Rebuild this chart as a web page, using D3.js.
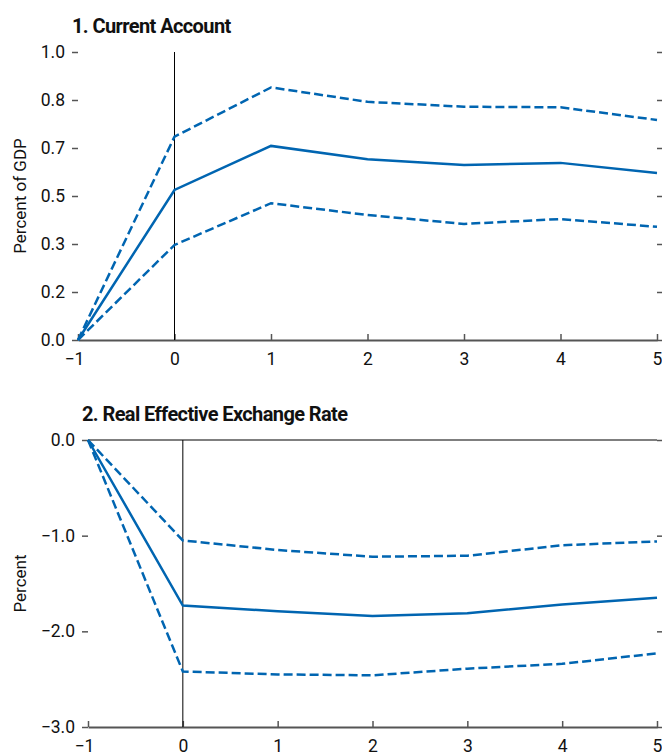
<!DOCTYPE html>
<html>
<head>
<meta charset="utf-8">
<script src="https://cdn.jsdelivr.net/npm/d3@7"></script>
<style>
  body { margin: 0; background: #fff; }
  svg { display: block; }
  text { font-family: Roboto, "Liberation Sans", sans-serif; fill: #111; }
</style>
</head>
<body>
<svg id="chart"></svg>
<script>
// horizon in years after the shock
const years = [-1, 0, 1, 2, 3, 4, 5]

// 1. current account, percent of GDP
const caMid   = [0, 0.521, 0.674, 0.628, 0.608, 0.615, 0.580]
const caUpper = [0, 0.706, 0.877, 0.827, 0.810, 0.808, 0.764]
const caLower = [0, 0.330, 0.475, 0.434, 0.403, 0.420, 0.393]
const caTicks = [0, 1/6, 2/6, 3/6, 4/6, 5/6, 1]
const caTickLabels = ['0.0', '0.2', '0.3', '0.5', '0.7', '0.8', '1.0']

// 2. real effective exchange rate, percent
const reerMid   = [0, -1.73, -1.79, -1.84, -1.81, -1.72, -1.65]
const reerUpper = [0, -1.05, -1.15, -1.22, -1.21, -1.10, -1.06]
const reerLower = [0, -2.42, -2.45, -2.46, -2.39, -2.34, -2.23]
const reerTicks = [0, -1, -2, -3]
const reerTickLabels = ['0.0', '\u22121.0', '\u22122.0', '\u22123.0']

const width = 662
const height = 754
const blue = '#0065b1'
const axisGrey = '#555'

const svg = d3.select('#chart')
  .attr('width', width)
  .attr('height', height)

const fmtYear = d => d < 0 ? '\u2212' + Math.abs(d) : String(d)

function panel(opts) {
  const x = d3.scaleLinear().domain([-1, 5]).range([opts.left, opts.right])
  const y = d3.scaleLinear().domain(opts.domain).range([opts.bottom, opts.top])
  const g = svg.append('g')

  // title
  g.append('text')
    .attr('x', opts.titleX)
    .attr('y', opts.titleY)
    .attr('font-size', 20)
    .attr('font-weight', 'bold')
    .attr('letter-spacing', -0.6)
    .text(opts.title)

  // y axis label
  g.append('text')
    .attr('transform', `translate(26, ${(opts.top + opts.bottom) / 2}) rotate(-90)`)
    .attr('text-anchor', 'middle')
    .attr('font-size', 17)
    .text(opts.yLabel)

  // left ticks (outside)
  const yl = g.append('g')
    .attr('transform', `translate(${opts.left}, 0)`)
    .call(d3.axisLeft(y).tickValues(opts.ticks).tickSize(6).tickPadding(7)
      .tickFormat((d, i) => opts.tickLabels[i]))
  yl.select('.domain').remove()

  // right ticks (outside)
  const yr = g.append('g')
    .attr('transform', `translate(${opts.right}, 0)`)
    .call(d3.axisRight(y).tickValues(opts.ticks).tickSize(6).tickFormat(''))
  yr.select('.domain').remove()

  ;[yl, yr].forEach(a => {
    a.selectAll('line').attr('stroke', axisGrey).attr('stroke-width', 1.5)
    a.selectAll('text').attr('font-size', 17.5).attr('font-family', null).attr('fill', '#111')
  })

  // zero line when zero is the top of the panel
  if (opts.domain[1] === 0) {
    g.append('line')
      .attr('x1', x(-1)).attr('x2', x(5))
      .attr('y1', y(0)).attr('y2', y(0))
      .attr('stroke', axisGrey).attr('stroke-width', 1.5)
  }

  // bottom axis, ticks pointing up
  const xa = g.append('g')
    .attr('transform', `translate(0, ${opts.bottom})`)
    .call(d3.axisBottom(x).tickValues(years).tickSize(-6).tickSizeOuter(0).tickPadding(13)
      .tickFormat(fmtYear))
  xa.select('.domain').attr('stroke', axisGrey).attr('stroke-width', 1.8)
  xa.selectAll('line').attr('stroke', axisGrey).attr('stroke-width', 1.5)
  xa.selectAll('text')
    .attr('font-size', 17.5).attr('font-family', null).attr('fill', '#111')
    .attr('dx', d => d < 0 ? -4 : 0)

  // shock line at year 0
  g.append('line')
    .attr('x1', x(0)).attr('x2', x(0))
    .attr('y1', opts.top).attr('y2', opts.bottom)
    .attr('stroke', '#000').attr('stroke-width', 1)

  const line = d3.line()
    .x((d, i) => x(years[i]))
    .y(d => y(d))

  ;[opts.upper, opts.lower].forEach(s => {
    g.append('path')
      .datum(s)
      .attr('d', line)
      .attr('fill', 'none')
      .attr('stroke', blue)
      .attr('stroke-width', 2.5)
      .attr('stroke-dasharray', '9,4')
  })
  g.append('path')
    .datum(opts.mid)
    .attr('d', line)
    .attr('fill', 'none')
    .attr('stroke', blue)
    .attr('stroke-width', 2.5)
}

panel({
  title: '1. Current Account', titleX: 72, titleY: 33,
  yLabel: 'Percent of GDP',
  left: 78, right: 657, top: 52, bottom: 340,
  domain: [0, 1], ticks: caTicks, tickLabels: caTickLabels,
  mid: caMid, upper: caUpper, lower: caLower
})

panel({
  title: '2. Real Effective Exchange Rate', titleX: 82, titleY: 421,
  yLabel: 'Percent',
  left: 88, right: 657, top: 440, bottom: 727,
  domain: [-3, 0], ticks: reerTicks, tickLabels: reerTickLabels,
  mid: reerMid, upper: reerUpper, lower: reerLower
})
</script>
</body>
</html>
